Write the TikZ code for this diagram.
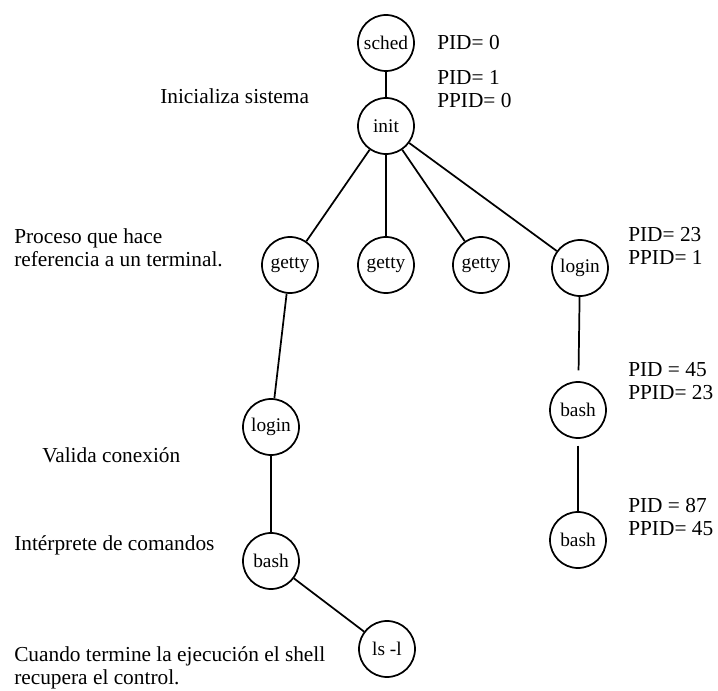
\documentclass[tikz,border=0pt]{standalone}
\usepackage{fontspec}
\setmainfont{Liberation Serif}
\begin{document}
\begin{tikzpicture}[x=0.75pt,y=-0.75pt,
  proc/.style={draw,circle,minimum size=42pt,inner sep=0pt,line width=1.3pt,
    font=\fontsize{14.5}{17}\selectfont},
  note/.style={anchor=west,align=left,inner sep=0pt,
    font=\fontsize{16}{17}\selectfont},
  link/.style={line width=1.3pt}]
\useasboundingbox (0,0) rectangle (718,691);

% process tree
\node[proc] (sched)  at (386,43)  {sched};
\node[proc] (init)   at (386,126) {init};
\node[proc] (getty1) at (290,265) {getty};
\node[proc] (getty2) at (386,265) {getty};
\node[proc] (getty3) at (481,265) {getty};
\node[proc] (loginR) at (580,268) {login};
\node[proc] (loginL) at (271,427) {login};
\node[proc] (bashL)  at (271,561) {bash};
\node[proc] (ls)     at (387,649) {ls -l};
\node[proc] (bashR1) at (578,410) {bash};
\node[proc] (bashR2) at (578,540) {bash};

\draw[link] (sched) -- (init);
\draw[link] (init) -- (getty1);
\draw[link] (init) -- (getty2);
\draw[link] (init) -- (getty3);
\draw[link] (init) -- (loginR);
\draw[link] (getty1) -- (loginL);
\draw[link] (loginL) -- (bashL);
\draw[link] (bashL) -- (ls);
\draw[link,shorten >=8] (loginR) -- (bashR1);
\draw[link,shorten <=5] (bashR1) -- (bashR2);

% annotations
\node[note] (n0) at (437,43)  {PID= 0};
\node[note] (n1) at (437,89)  {PID= 1\\PPID= 0};
\node[note] (n2) at (160,96)  {Inicializa sistema};
\node[note] (n3) at (14,248)  {Proceso que hace\\referencia a un terminal.};
\node[note] (n4) at (628,246) {PID= 23\\PPID= 1};
\node[note] (n5) at (628,381) {PID = 45\\PPID= 23};
\node[note] (n6) at (42,455)  {Valida conexión};
\node[note] (n7) at (14,545)  {Intérprete de comandos};
\node[note] (n8) at (628,517) {PID = 87\\PPID= 45};
\node[note] (n9) at (14,668)  {Cuando termine la ejecución el shell\\recupera el control.};
\end{tikzpicture}
\end{document}
